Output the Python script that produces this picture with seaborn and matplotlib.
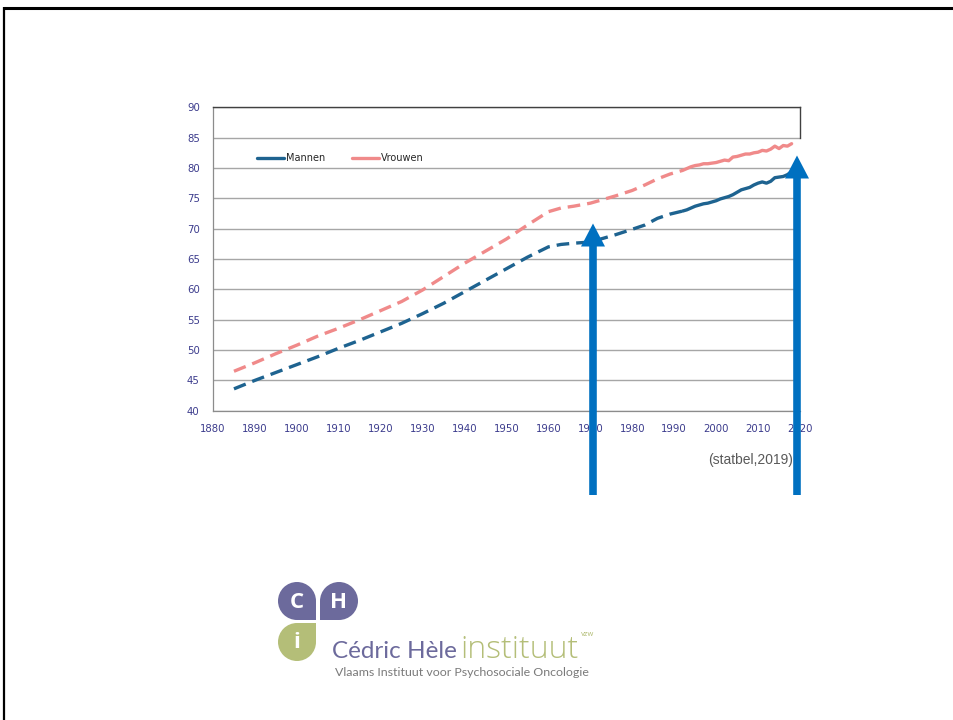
import matplotlib
matplotlib.use("Agg")
import numpy as np
import pandas as pd
import seaborn as sns
import matplotlib.pyplot as plt
from matplotlib.lines import Line2D
from matplotlib.patches import Circle, Rectangle, Polygon
from matplotlib.ticker import MultipleLocator

# ---------------- data ----------------
jaren = [1885, 1890, 1895, 1900, 1905, 1910, 1915, 1920, 1925, 1930, 1935, 1940,
         1945, 1950, 1955, 1960, 1963, 1966, 1970, 1973, 1976, 1980, 1983, 1986,
         1989, 1992, 1993, 1994, 1995, 1996, 1997, 1998, 1999, 2000, 2001, 2002,
         2003, 2004, 2005, 2006, 2007, 2008, 2009, 2010, 2011, 2012, 2013, 2014,
         2015, 2016, 2017, 2018]
mannen = [43.6, 45.0, 46.3, 47.6, 48.9, 50.3, 51.6, 53.0, 54.4, 56.0, 57.7, 59.6,
          61.5, 63.4, 65.3, 67.0, 67.4, 67.6, 67.8, 68.4, 69.0, 69.9, 70.6, 71.7,
          72.4, 72.9, 73.1, 73.4, 73.7, 73.9, 74.1, 74.2, 74.4, 74.6, 74.9, 75.1,
          75.3, 75.6, 76.0, 76.4, 76.6, 76.8, 77.2, 77.5, 77.7, 77.5, 77.8, 78.4,
          78.5, 78.6, 78.9, 79.4]
vrouwen = [46.5, 47.9, 49.4, 50.8, 52.3, 53.6, 55.0, 56.5, 58.0, 59.9, 62.1, 64.3,
           66.3, 68.3, 70.6, 72.8, 73.4, 73.7, 74.2, 74.8, 75.4, 76.3, 77.2, 78.2,
           79.0, 79.6, 79.9, 80.2, 80.4, 80.5, 80.7, 80.7, 80.8, 80.9, 81.1, 81.3,
           81.2, 81.8, 81.9, 82.1, 82.3, 82.3, 82.5, 82.6, 82.9, 82.8, 83.1, 83.6,
           83.2, 83.7, 83.6, 84.0]
reeksen = ["Mannen", "Vrouwen"]
kleuren = {"Mannen": "#1e6390", "Vrouwen": "#f08a8a"}
y_ticks = [40, 45, 50, 55, 60, 65, 70, 75, 80, 85, 90]
x_ticks = [1880, 1890, 1900, 1910, 1920, 1930, 1940, 1950, 1960, 1970, 1980,
           1990, 2000, 2010, 2020]
bron = "(statbel,2019)"
logo_titel = "Cédric Hèle"
logo_groen = "instituut"
logo_sub = "Vlaams Instituut voor Psychosociale Oncologie"

df = pd.DataFrame({
    "jaar": jaren * 2,
    "levensverwachting": mannen + vrouwen,
    "geslacht": ["Mannen"] * len(jaren) + ["Vrouwen"] * len(jaren),
})

sns.set_style("white")
plt.rcParams["font.family"] = ["DejaVu Sans"]

fig = plt.figure(figsize=(9.54, 7.2), dpi=100)
fig.patch.set_facecolor("white")
ax = fig.add_axes([213 / 954, 1 - 410.7 / 720, 587 / 954, 303.4 / 720])

# dashed part (sparse points) and solid part (yearly points)
sns.lineplot(data=df[df.jaar <= 1992], x="jaar", y="levensverwachting",
             hue="geslacht", palette=kleuren, errorbar=None, legend=False,
             linewidth=2.4, linestyle=(0, (3.8, 2.1)), ax=ax)
sns.lineplot(data=df[df.jaar >= 1992], x="jaar", y="levensverwachting",
             hue="geslacht", palette=kleuren, errorbar=None, legend=False,
             linewidth=2.4, ax=ax)

ax.set_xlim(1880, 2020)
ax.set_ylim(40, 90)
ax.set_xlabel("")
ax.set_ylabel("")
ax.set_yticks(y_ticks)
ax.set_xticks(x_ticks)
ax.yaxis.set_minor_locator(MultipleLocator(1))
ax.xaxis.set_minor_locator(MultipleLocator(5))
ax.tick_params(axis="both", which="major", direction="out", length=4, width=0.8,
               color="#808080", labelsize=7.3, labelcolor="#3b3b8c", pad=5.5)
ax.tick_params(axis="y", which="minor", direction="out", length=2.5, width=0.6,
               color="#909090")
ax.tick_params(axis="x", which="minor", direction="out", length=4, width=0.8,
               color="#808080")
ax.yaxis.grid(True, which="major", color="#a6a6a6", linewidth=1.0)
ax.xaxis.grid(False)
ax.set_axisbelow(True)
for s in ["left", "bottom"]:
    ax.spines[s].set_color("#8c8c8c")
    ax.spines[s].set_linewidth(0.9)
ax.spines["top"].set_color("#404040")
ax.spines["top"].set_linewidth(1.0)
ax.spines["right"].set_color("#404040")
ax.spines["right"].set_linewidth(1.0)
ax.spines["right"].set_bounds(85, 90)

handles = [Line2D([], [], color=kleuren[r], lw=2.4) for r in reeksen]
ax.legend(handles, reeksen, loc="center left", bbox_to_anchor=(0.075, 0.833),
          ncol=2, frameon=False, fontsize=7, handlelength=2.8,
          handletextpad=0.2, columnspacing=2.75, borderpad=0, borderaxespad=0,
          labelcolor="#262626")

# ---------------- slide overlay (pixel coordinates) ----------------
ov = fig.add_axes([0, 0, 1, 1], zorder=10)
ov.set_xlim(0, 954)
ov.set_ylim(720, 0)
ov.axis("off")
ov.patch.set_alpha(0)

# slide border (top and left)
ov.plot([4, 954], [7.5, 7.5], color="black", lw=2.2, solid_capstyle="butt")
ov.plot([4.3, 4.3], [6.5, 720], color="black", lw=1.6, solid_capstyle="butt")

# source text
ov.text(793, 460, bron, ha="right", va="center", fontsize=10,
        family=["Liberation Sans", "DejaVu Sans"], color="#595959")

# arrows
blauw = "#0070c0"
for cx, tip in [(593, 223.5), (797, 155.5)]:
    pts = [(cx - 3.8, 495), (cx - 3.8, tip + 23), (cx - 12, tip + 23), (cx, tip),
           (cx + 12, tip + 23), (cx + 3.8, tip + 23), (cx + 3.8, 495)]
    ov.add_patch(Polygon(pts, closed=True, color=blauw, lw=0))

# logo
paars = "#6c6a9c"
groen = "#b4be78"
r = 19
for (cx, cy, cnr, col, letter) in [(297, 601, "br", paars, "C"),
                                   (339, 601, "bl", paars, "H"),
                                   (297, 642, "tr", groen, "i")]:
    ov.add_patch(Circle((cx, cy), r, color=col, lw=0))
    if cnr == "br":
        ov.add_patch(Rectangle((cx, cy), r, r, color=col, lw=0))
    elif cnr == "bl":
        ov.add_patch(Rectangle((cx - r, cy), r, r, color=col, lw=0))
    else:
        ov.add_patch(Rectangle((cx, cy - r), r, r, color=col, lw=0))
    ov.text(cx, cy + 1, letter, ha="center", va="center", color="white",
            fontsize=16, fontweight="bold", family=["Open Sans", "DejaVu Sans"])

t1 = ov.text(332, 658, logo_titel, ha="left", va="baseline", color=paars,
             fontsize=17.5, family=["Lato", "DejaVu Sans"])
fig.canvas.draw()
renderer = fig.canvas.get_renderer()
bb = t1.get_window_extent(renderer)
x_end = ov.transData.inverted().transform((bb.x1, bb.y0))[0]
t2 = ov.text(x_end + 4, 658, logo_groen, ha="left", va="baseline", color=groen,
             fontsize=23, fontweight="light", family=["Open Sans", "DejaVu Sans"])
fig.canvas.draw()
bb2 = t2.get_window_extent(renderer)
x_end2 = ov.transData.inverted().transform((bb2.x1, bb2.y0))[0]
ov.text(x_end2 + 2, 636, "vzw", ha="left", va="baseline", color=groen,
        fontsize=5.5, family=["Lato", "DejaVu Sans"])
ov.text(335, 673, logo_sub, ha="left", va="center", color="#7a7a7a",
        fontsize=8.9, family=["Lato", "DejaVu Sans"])

fig.savefig("out.png", dpi=100, facecolor="white")
